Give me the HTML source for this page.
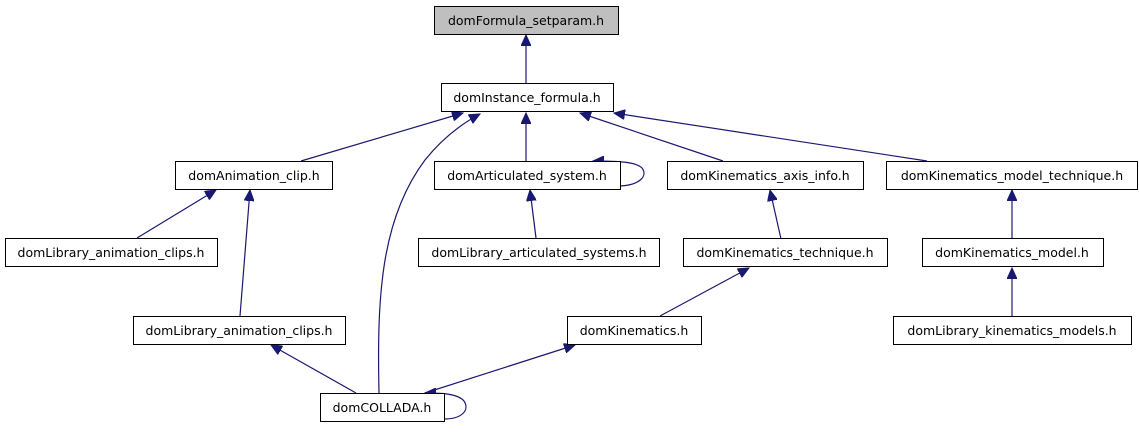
<!DOCTYPE html>
<html><head><meta charset="utf-8"><style>html,body{margin:0;padding:0;background:#fff}</style></head><body>
<svg width="1139" height="427" xmlns="http://www.w3.org/2000/svg" font-family="DejaVu Sans, Liberation Sans, sans-serif" font-size="12.5">
<defs><marker id="a" markerWidth="12" markerHeight="10" refX="11" refY="5" orient="auto" markerUnits="userSpaceOnUse"><path d="M0,0 L11,5 L0,10 z" fill="#191970" stroke="#191970"/></marker></defs>
<g fill="none" stroke="#191970" stroke-width="1.2" marker-end="url(#a)">
<path d="M526,83 L526,35"/>
<path d="M301,161 L463,113"/>
<path d="M379,393 C377,300 380,220 425,160 C445,135 465,122 480,114"/>
<path d="M526,161 L526,113"/>
<path d="M723,161 L580,113"/>
<path d="M927,161 L614,113"/>
<path d="M620,186 C640,185 648,176 642,168 C636,162 620,161 593,161"/>
<path d="M137,238 L216,190"/>
<path d="M240,316 L250,190"/>
<path d="M536,238 L530,190"/>
<path d="M356,393 L271,345"/>
<path d="M425,393 L575,345"/>
<path d="M444,419 C462,419 470,410 464,401 C458,394 444,393 425,393"/>
<path d="M660,316 L749,268"/>
<path d="M781,239 L770,190"/>
<path d="M1012,239 L1012,190"/>
<path d="M1012,316 L1012,268"/>
</g>
<g stroke="#000" stroke-width="1">
<rect x="434.5" y="6.5" width="184" height="28" fill="#bfbfbf"/>
<rect x="441.5" y="83.5" width="172" height="28" fill="#fff"/>
<rect x="175.5" y="161.5" width="157" height="28" fill="#fff"/>
<rect x="434.5" y="161.5" width="186" height="28" fill="#fff"/>
<rect x="667.5" y="161.5" width="196" height="28" fill="#fff"/>
<rect x="886.5" y="161.5" width="251" height="28" fill="#fff"/>
<rect x="5.5" y="238.5" width="212" height="28" fill="#fff"/>
<rect x="418.5" y="238.5" width="241" height="28" fill="#fff"/>
<rect x="683.5" y="238.5" width="204" height="28" fill="#fff"/>
<rect x="922.5" y="238.5" width="181" height="28" fill="#fff"/>
<rect x="133.5" y="316.5" width="212" height="28" fill="#fff"/>
<rect x="567.5" y="316.5" width="134" height="28" fill="#fff"/>
<rect x="893.5" y="316.5" width="238" height="28" fill="#fff"/>
<rect x="320.5" y="393.5" width="124" height="28" fill="#fff"/>
</g>
<g fill="#000" text-anchor="middle">
<text x="526" y="25">domFormula_setparam.h</text>
<text x="527" y="102">domInstance_formula.h</text>
<text x="254" y="180">domAnimation_clip.h</text>
<text x="527" y="180">domArticulated_system.h</text>
<text x="765" y="180">domKinematics_axis_info.h</text>
<text x="1012" y="180">domKinematics_model_technique.h</text>
<text x="111" y="257">domLibrary_animation_clips.h</text>
<text x="539" y="257">domLibrary_articulated_systems.h</text>
<text x="785" y="257">domKinematics_technique.h</text>
<text x="1012" y="257">domKinematics_model.h</text>
<text x="239" y="335">domLibrary_animation_clips.h</text>
<text x="634" y="335">domKinematics.h</text>
<text x="1012" y="335">domLibrary_kinematics_models.h</text>
<text x="382" y="412">domCOLLADA.h</text>
</g>
</svg>
</body></html>
